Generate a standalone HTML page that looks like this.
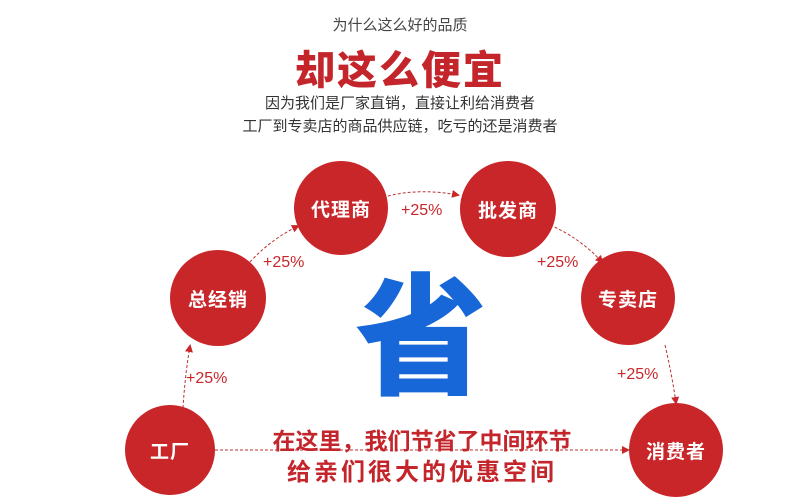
<!DOCTYPE html>
<html><head><meta charset="utf-8"><style>
body{margin:0;width:800px;height:474px;overflow:hidden;background:#fff;position:relative;font-family:"Liberation Sans","Noto Sans CJK SC",sans-serif}
.t{position:absolute;left:0;width:800px;text-align:center;white-space:nowrap}
.c{position:absolute;border-radius:50%;background:#c9262a;color:#fff;font-weight:bold;font-size:19px;display:flex;align-items:center;justify-content:center;letter-spacing:1px}
.p{position:absolute;color:#c9262a;font-size:16px}
</style></head><body>
<div class="t" style="top:14px;font-size:15px;color:#444">为什么这么好的品质</div>
<div class="t" style="top:38px;font-size:40px;font-weight:900;color:#c3252b;letter-spacing:2px">却这么便宜</div>
<div class="t" style="top:92px;font-size:15px;color:#333">因为我们是厂家直销，直接让利给消费者</div>
<div class="t" style="top:115px;font-size:15px;color:#333">工厂到专卖店的商品供应链，吃亏的还是消费者</div>
<svg style="position:absolute;left:0;top:0" width="800" height="474">
<defs><marker id="a" markerWidth="8" markerHeight="8" refX="6" refY="4" orient="auto"><path d="M0,0L8,4L0,8z" fill="#c9262a"/></marker></defs>
<g stroke="#b33" stroke-width="1" stroke-dasharray="3,2" fill="none" marker-end="url(#a)">
<path d="M183,408 Q185,375 190,346"/>
<path d="M250,262 Q270,240 298,226"/>
<path d="M388,196 Q420,188 458,195"/>
<path d="M550,225 Q580,238 602,262"/>
<path d="M665,345 Q672,375 676,403"/>
<path d="M215,450 L628,450"/>
</g></svg>
<div class="c" style="left:294px;top:161px;width:94px;height:94px">代理商</div>
<div class="c" style="left:460px;top:161px;width:96px;height:96px">批发商</div>
<div class="c" style="left:170px;top:250px;width:96px;height:96px">总经销</div>
<div class="c" style="left:581px;top:251px;width:94px;height:94px">专卖店</div>
<div class="c" style="left:125px;top:405px;width:90px;height:90px">工厂</div>
<div class="c" style="left:629px;top:403px;width:94px;height:94px">消费者</div>
<div class="p" style="left:401px;top:202px">+25%</div>
<div class="p" style="left:263px;top:254px">+25%</div>
<div class="p" style="left:537px;top:254px">+25%</div>
<div class="p" style="left:186px;top:370px">+25%</div>
<div class="p" style="left:617px;top:366px">+25%</div>
<div style="position:absolute;left:355px;top:262px;font-size:132px;line-height:132px;font-weight:900;color:#1767d8;font-family:'Noto Sans CJK SC',sans-serif">省</div>
<div class="t" style="top:422px;font-size:23px;font-weight:bold;color:#c3252b;left:22px">在这里，我们节省了中间环节</div>
<div class="t" style="top:452px;font-size:24px;font-weight:bold;color:#c3252b;left:22px;letter-spacing:3px">给亲们很大的优惠空间</div>
</body></html>
